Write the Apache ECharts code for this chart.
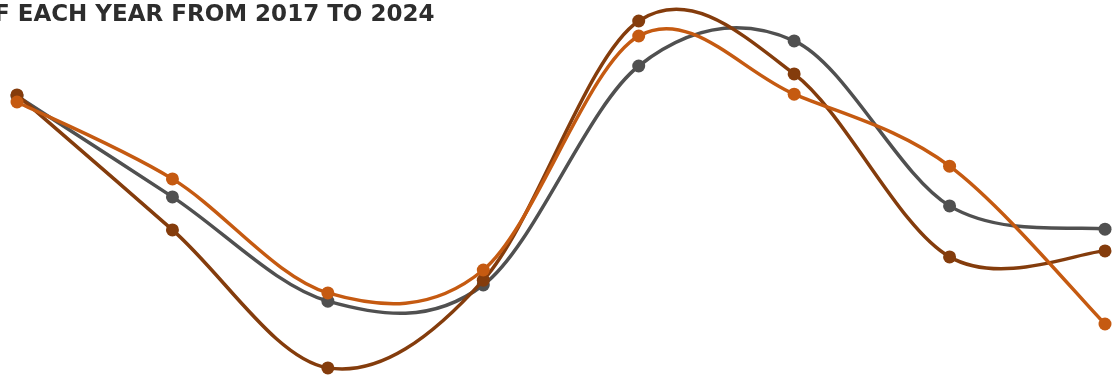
<!DOCTYPE html>
<html>
<head>
<meta charset="utf-8">
<script src="https://cdn.jsdelivr.net/npm/echarts@6/dist/echarts.min.js"></script>
<style>
  html, body { margin: 0; padding: 0; background: #fff; }
  #chart { width: 1114px; height: 375px; }
</style>
</head>
<body>
<div id="chart"></div>
<script>
// years on the x axis
const years = ['2017', '2018', '2019', '2020', '2021', '2022', '2023', '2024'];

// series values (arbitrary 0-100 scale)
const seriesGrey = [74.4, 47.5, 19.7, 24.0, 82.4, 89.1, 45.1, 38.9];
const seriesBrown = [74.7, 38.7, 1.9, 25.3, 94.4, 80.3, 31.5, 33.1];
const seriesOrange = [72.8, 52.3, 21.9, 28.0, 90.4, 74.9, 55.7, 13.6];

const titleText = 'F EACH YEAR FROM 2017 TO 2024';

let chart = echarts.init(document.getElementById('chart'));

// cardinal (catmull-rom) curve drawn segment by segment, points taken from the axes
function makeCurve(name, values, color) {
  let n = values.length;
  return {
    name: name,
    type: 'custom',
    data: values.map((v, i) => [i, v]),
    encode: { x: 0, y: 1 },
    renderItem: function (params, api) {
      let i = params.dataIndex;
      let pt = function (j) {
        j = Math.max(0, Math.min(n - 1, j));
        return api.coord([j, values[j]]);
      };
      let children = [];
      if (i < n - 1) {
        let p0 = pt(i - 1), p1 = pt(i), p2 = pt(i + 1), p3 = pt(i + 2);
        children.push({
          type: 'bezierCurve',
          shape: {
            x1: p1[0], y1: p1[1], x2: p2[0], y2: p2[1],
            cpx1: p1[0] + (p2[0] - p0[0]) / 6,
            cpy1: p1[1] + (p2[1] - p0[1]) / 6,
            cpx2: p2[0] - (p3[0] - p1[0]) / 6,
            cpy2: p2[1] - (p3[1] - p1[1]) / 6
          },
          style: { stroke: color, lineWidth: 3.5, fill: null, lineCap: 'round' }
        });
      }
      let p = pt(i);
      children.push({
        type: 'circle',
        shape: { cx: p[0], cy: p[1], r: 6.5 },
        style: { fill: color }
      });
      return { type: 'group', children: children };
    }
  };
}

let option = {
  animation: false,
  title: {
    text: titleText,
    left: -11,
    top: -1,
    textStyle: {
      fontFamily: 'DejaVu Sans',
      fontWeight: 'bold',
      fontSize: 23,
      color: '#2d2d2d'
    }
  },
  grid: {
    left: 17,
    right: 9,
    top: 0,
    bottom: 0
  },
  xAxis: {
    type: 'category',
    boundaryGap: false,
    data: years,
    show: false
  },
  yAxis: {
    type: 'value',
    min: 0,
    max: 100,
    show: false
  },
  series: [
    makeCurve('grey', seriesGrey, '#505050'),
    makeCurve('brown', seriesBrown, '#843c0c'),
    makeCurve('orange', seriesOrange, '#c55a11')
  ]
};

chart.setOption(option);
</script>
</body>
</html>
